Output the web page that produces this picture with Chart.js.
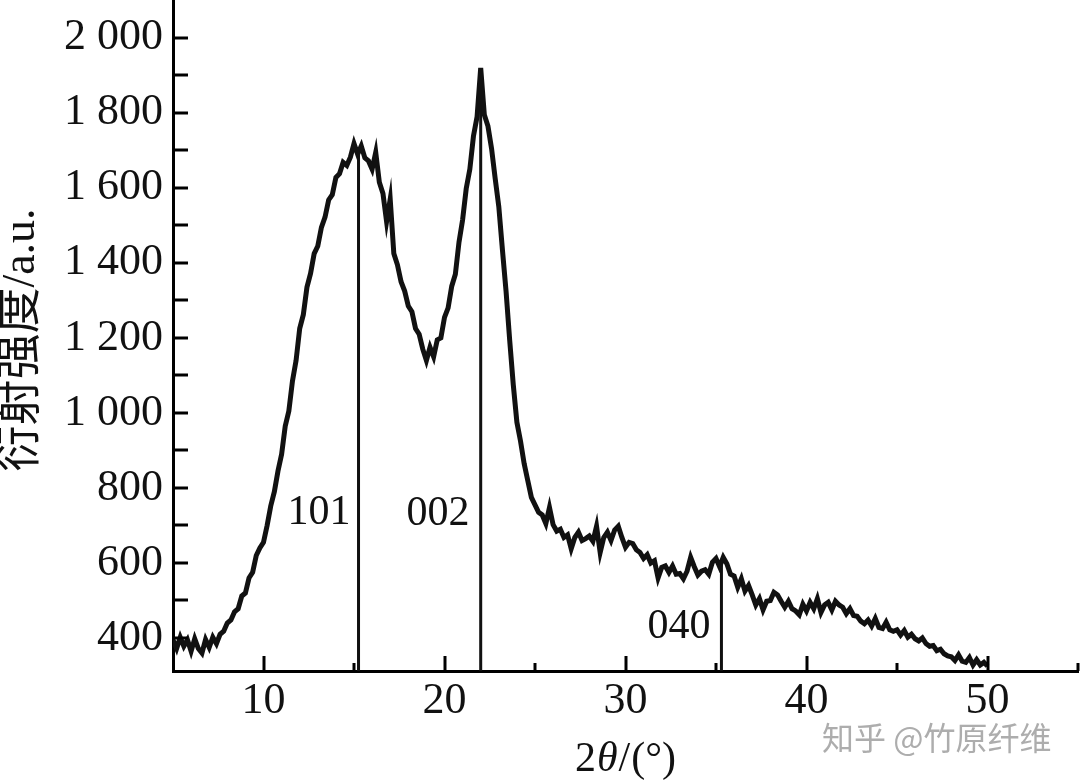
<!DOCTYPE html>
<html>
<head>
<meta charset="utf-8">
<script src="https://cdn.jsdelivr.net/npm/chart.js@4.4.1/dist/chart.umd.min.js"></script>
<style>
  html, body { margin: 0; padding: 0; background: #fff; }
</style>
</head>
<body>
<canvas id="xrd" width="1080" height="781"></canvas>
<script>
// ============================================================================
// Données du diffractogramme
// ============================================================================
const ANGLE_DEBUT = 5;    // premier point, 2θ en degrés
const ANGLE_PAS = 0.2;   // pas d'échantillonnage

// Intensité (a.u.), une ligne = 2° (10 points)
const intensite = [
  395, 372, 402, 378, 395, 365, 398, 372, 360, 396,         // 5.0 - 6.8
  375, 402, 385, 410, 418, 440, 448, 470, 478, 512,         // 7.0 - 8.8
  520, 560, 575, 620, 640, 655, 700, 752, 790, 845,         // 9.0 - 10.8
  890, 965, 1005, 1085, 1140, 1225, 1262, 1335, 1372, 1425, // 11.0 - 12.8
  1445, 1495, 1522, 1568, 1582, 1628, 1638, 1668, 1660, 1682,
  1718, 1690, 1712, 1680, 1672, 1650, 1695, 1615, 1585, 1510,
  1570, 1425, 1395, 1350, 1325, 1285, 1270, 1225, 1210, 1170,
  1140, 1175, 1150, 1195, 1200, 1255, 1280, 1338, 1370, 1455,
  1515, 1598, 1650, 1738, 1790, 1920, 1795, 1765, 1705, 1625, // 21.0 - 22.8
  1550, 1435, 1325, 1195, 1075, 975, 925, 865, 820, 775,
  755, 735, 728, 705, 748, 702, 685, 690, 668, 675,
  638, 668, 682, 660, 665, 672, 658, 698, 628, 668,
  682, 660, 688, 698, 668, 642, 655, 652, 635, 628,
  612, 622, 600, 606, 560, 588, 592, 575, 592, 570,
  572, 558, 578, 615, 590, 568, 578, 582, 570, 602,
  612, 590, 615, 598, 570, 565, 535, 558, 525, 540,         // 35.0 - 36.8
  515, 488, 505, 475, 498, 500, 522, 515, 498, 482,
  498, 478, 472, 462, 490, 472, 495, 478, 505, 468,
  488, 495, 475, 498, 488, 482, 465, 478, 460, 458,
  445, 438, 448, 432, 452, 428, 425, 442, 422, 418,
  422, 408, 420, 402, 410, 398, 392, 400, 385, 378,
  380, 366, 370, 358, 352, 350, 340, 355, 338, 335,
  348, 328, 342, 328, 335, 325                              // 49.0 - 50.0
];

// Pics indexés (traits verticaux)
const picsAngle = [15.25, 22.0, 35.3];
const picsSommet = [1700, 1920, 600];
const picsNom = ['101', '002', '040'];
const nomAngle = [13.07, 19.64, 32.96];
const nomIntensite = [733, 731, 429];

// Axes
const X_MIN = 5, X_MAX = 55;
const Y_MIN = 312, Y_MAX = 2101;
const xGraduations = [10, 15, 20, 25, 30, 35, 40, 45, 50, 55];
const xEtiquettes = [10, 20, 30, 40, 50];
const yGraduations = [400, 500, 600, 700, 800, 900, 1000, 1100, 1200, 1300,
                      1400, 1500, 1600, 1700, 1800, 1900, 2000];
const yEtiquettes = [400, 600, 800, 1000, 1200, 1400, 1600, 1800, 2000];

const POLICE = '"Liberation Serif", "Times New Roman", serif';

// 2 000 plutôt que 2000
function formaterMillier(v) {
    if (v < 1000) return String(v);
    return Math.floor(v / 1000) + ' ' + String(v % 1000).padStart(3, '0');
}

// ============================================================================
// Décorations : graduations internes, noms des pics, titres, filigrane
// ============================================================================
const decorations = {
    id: 'decorations',
    afterDraw(chart) {
        const ctx = chart.ctx;
        const { left, right, bottom } = chart.chartArea;
        const sx = chart.scales.x, sy = chart.scales.y;

        ctx.save();
        ctx.strokeStyle = '#000';
        ctx.lineWidth = 3;

        // graduations vers l'intérieur
        xGraduations.forEach(v => {
            const px = Math.round(sx.getPixelForValue(v));
            const long = xEtiquettes.includes(v) ? 15 : 8;
            ctx.beginPath();
            ctx.moveTo(px, bottom);
            ctx.lineTo(px, bottom - long);
            ctx.stroke();
        });
        yGraduations.forEach(v => {
            const py = Math.round(sy.getPixelForValue(v));
            ctx.beginPath();
            ctx.moveTo(left, py);
            ctx.lineTo(left + 15, py);
            ctx.stroke();
        });

        // noms des pics
        ctx.fillStyle = '#111';
        ctx.font = '42px ' + POLICE;
        ctx.textAlign = 'center';
        ctx.textBaseline = 'middle';
        picsNom.forEach((nom, k) => {
            ctx.fillText(nom, sx.getPixelForValue(nomAngle[k]), sy.getPixelForValue(nomIntensite[k]));
        });

        // titre de l'axe x : 2θ/(°) avec θ en italique
        const morceaux = [['2', ''], ['θ', 'italic '], ['/', ''], ['(°)', '']];
        const taille = 42;
        const ecart = 1;
        let total = 0;
        morceaux.forEach(([t, s]) => {
            ctx.font = s + taille + 'px ' + POLICE;
            total += ctx.measureText(t).width + ecart;
        });
        total -= ecart;
        let cx = (left + right) / 2 - total / 2;
        ctx.textAlign = 'left';
        ctx.textBaseline = 'alphabetic';
        morceaux.forEach(([t, s]) => {
            ctx.font = s + taille + 'px ' + POLICE;
            ctx.fillText(t, cx, 771);
            cx += ctx.measureText(t).width + ecart;
        });

        // titre de l'axe y
        ctx.save();
        ctx.translate(22, 340);
        ctx.rotate(-Math.PI / 2);
        ctx.font = '46px ' + POLICE + ', "Noto Sans CJK SC"';
        ctx.textAlign = 'center';
        ctx.textBaseline = 'middle';
        ctx.fillText('衍射强度/a.u.', 0, 0);
        ctx.restore();

        // filigrane
        ctx.font = '32px "Noto Sans CJK SC"';
        ctx.fillStyle = '#adadad';
        ctx.textAlign = 'left';
        ctx.textBaseline = 'middle';
        ctx.fillText('知乎 @竹原纤维', 822, 738);

        ctx.restore();
    }
};

// ============================================================================
// Construction du graphique
// ============================================================================
const courbe = intensite.map((v, i) => ({ x: ANGLE_DEBUT + i * ANGLE_PAS, y: v }));

const traitsPics = picsAngle.map((a, k) => ({
    data: [{ x: a, y: picsSommet[k] }, { x: a, y: Y_MIN }],
    borderColor: '#111',
    borderWidth: 3,
    pointRadius: 0,
    fill: false
}));

new Chart(document.getElementById('xrd'), {
    type: 'line',
    data: {
        datasets: [
            {
                data: courbe,
                borderColor: '#111',
                borderWidth: 5,
                pointRadius: 0,
                tension: 0,
                fill: false
            },
            ...traitsPics
        ]
    },
    options: {
        responsive: false,
        animation: false,
        layout: { padding: { left: 0, right: 2, top: 0, bottom: 0 } },
        plugins: {
            legend: { display: false },
            tooltip: { enabled: false }
        },
        scales: {
            x: {
                type: 'linear',
                min: X_MIN,
                max: X_MAX,
                afterBuildTicks: s => { s.ticks = xGraduations.map(v => ({ value: v })); },
                afterFit: s => {
                    s.height = 110;
                    s.paddingLeft = 0;
                    s.paddingRight = 0;
                },
                ticks: {
                    autoSkip: false,
                    maxRotation: 0,
                    padding: 4,
                    color: '#111',
                    font: { family: POLICE, size: 44 },
                    callback: v => xEtiquettes.includes(v) ? String(v) : ''
                },
                grid: { display: false, drawTicks: false },
                border: { display: true, color: '#000', width: 3 }
            },
            y: {
                type: 'linear',
                min: Y_MIN,
                max: Y_MAX,
                afterBuildTicks: s => { s.ticks = yGraduations.map(v => ({ value: v })); },
                afterFit: s => {
                    s.width = 173;
                    s.paddingTop = 0;
                    s.paddingBottom = 0;
                },
                ticks: {
                    autoSkip: false,
                    padding: 10,
                    color: '#111',
                    font: { family: POLICE, size: 44 },
                    callback: v => yEtiquettes.includes(v) ? formaterMillier(v) : ''
                },
                grid: { display: false, drawTicks: false },
                border: { display: true, color: '#000', width: 3 }
            }
        }
    },
    plugins: [decorations]
});
</script>
</body>
</html>
